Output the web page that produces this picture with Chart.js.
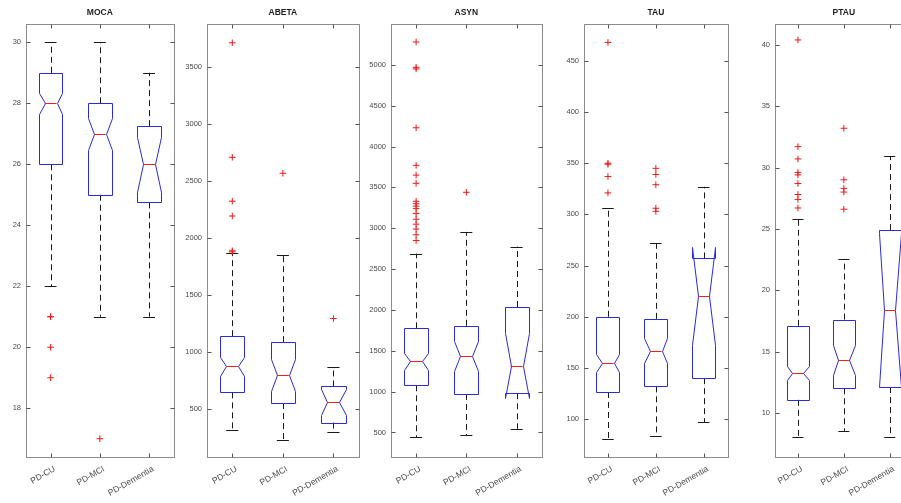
<!DOCTYPE html>
<html>
<head>
<meta charset="utf-8">
<script src="https://cdn.jsdelivr.net/npm/chart.js@4.4.1/dist/chart.umd.min.js"></script>
<style>
  html, body { margin: 0; padding: 0; background: #fff; overflow: hidden; }
  #wrap { position: relative; width: 901px; height: 503px; overflow: hidden; }
  #wrap canvas { position: absolute; top: 0; }
</style>
</head>
<body>
<div id="wrap"></div>
<script>
const groups = ['PD-CU', 'PD-MCI', 'PD-Dementia'];

// per group: [lower whisker, Q1, median, Q3, upper whisker]
const mocaBox = [[22, 26, 28, 29, 30], [21, 25, 27, 28, 30], [21, 24.75, 26, 27.25, 29]];
const mocaNotch = [[27.65, 28.35], [26.48, 27.52], [25.1, 26.9]];
const mocaOutliers = [[21, 21, 20, 19], [17], []];
const mocaTicks = [18, 20, 22, 24, 26, 28, 30];
const mocaRange = [16.4, 30.6];

const abetaBox = [[317, 647, 876, 1140, 1867], [227, 553, 803, 1088, 1852], [302, 382, 564, 699, 873]];
const abetaNotch = [[794, 958], [663, 943], [449, 679]];
const abetaOutliers = [[3715, 2710, 2325, 2195, 1890, 1880], [2570], [1295]];
const abetaTicks = [500, 1000, 1500, 2000, 2500, 3000, 3500];
const abetaRange = [80, 3880];

const asynBox = [[440, 1078, 1370, 1775, 2690], [470, 972, 1438, 1806, 2955], [545, 980, 1319, 2036, 2775]];
const asynNotch = [[1265, 1475], [1250, 1625], [919, 1719]];
const asynOutliers = [
  [5280, 4970, 4950, 4230, 3770, 3650, 3550, 3330, 3300, 3270, 3240, 3180, 3110, 3050, 2990, 2920, 2850],
  [3440],
  []
];
const asynTicks = [500, 1000, 1500, 2000, 2500, 3000, 3500, 4000, 4500, 5000];
const asynRange = [200, 5500];

const tauBox = [[81, 126.5, 155, 200, 306], [83.5, 132, 167, 198, 272], [97, 140, 220, 257, 327]];
const tauNotch = [[146, 164], [155, 179], [172, 268]];
const tauOutliers = [[468, 350, 349, 337, 321], [345, 339, 329, 306, 303], []];
const tauTicks = [100, 150, 200, 250, 300, 350, 400, 450];
const tauRange = [63, 486];

const ptauBox = [[8.0, 11.06, 13.23, 17.1, 25.8], [8.5, 12.0, 14.3, 17.6, 22.55], [8.0, 12.1, 18.4, 24.9, 30.9]];
const ptauNotch = [[12.64, 13.82], [13.1, 15.5], [12.1, 24.7]];
const ptauOutliers = [[40.4, 31.7, 30.7, 29.6, 29.4, 28.7, 27.8, 27.4, 26.7], [33.2, 29.0, 28.3, 28.0, 26.6], []];
const ptauTicks = [10, 15, 20, 25, 30, 35, 40];
const ptauRange = [6.4, 41.7];

// plot-area placement of each subplot (pixels)
const panels = [
  { title: 'MOCA',  box: mocaBox,  notch: mocaNotch,  outliers: mocaOutliers,  ticks: mocaTicks,  range: mocaRange,  left: 26,  right: 174 },
  { title: 'ABETA', box: abetaBox, notch: abetaNotch, outliers: abetaOutliers, ticks: abetaTicks, range: abetaRange, left: 207, right: 359 },
  { title: 'ASYN',  box: asynBox,  notch: asynNotch,  outliers: asynOutliers,  ticks: asynTicks,  range: asynRange,  left: 391, right: 542 },
  { title: 'TAU',   box: tauBox,   notch: tauNotch,   outliers: tauOutliers,   ticks: tauTicks,   range: tauRange,   left: 584, right: 728 },
  { title: 'PTAU',  box: ptauBox,  notch: ptauNotch,  outliers: ptauOutliers,  ticks: ptauTicks,  range: ptauRange,  left: 775, right: 913 }
];

const PLOT_TOP = 24;
const PLOT_BOTTOM = 457;
const H = 503;
const YAXIS_W = 40;
const PAD_R = 4;

const BOX_HW = 0.24;    // half box width, in category units
const NOTCH_HW = 0.12;  // half width at the median
const CAP_HW = 0.12;

const snap = v => Math.round(v) + 0.5;

const notchedBoxes = {
  id: 'notchedBoxes',
  beforeDatasetsDraw(chart, args, opts) {
    const { ctx, chartArea: a, scales: { x, y } } = chart;
    const px = v => x.getPixelForValue(v);
    const py = v => y.getPixelForValue(v);
    ctx.save();
    ctx.beginPath();
    ctx.rect(a.left, a.top, a.width, a.height);
    ctx.clip();
    ctx.lineWidth = 1;
    opts.box.forEach((s, i) => {
      const [lo, q1, med, q3, hi] = s;
      const [nlo, nhi] = opts.notch[i];
      const c = i + 1;
      const cx = snap(px(c));

      // dashed whiskers
      ctx.strokeStyle = '#1a1a1a';
      ctx.setLineDash([6, 4]);
      ctx.beginPath();
      ctx.moveTo(cx, py(q3));
      ctx.lineTo(cx, py(hi));
      ctx.moveTo(cx, py(q1));
      ctx.lineTo(cx, py(lo));
      ctx.stroke();
      ctx.setLineDash([]);

      // whisker caps
      ctx.beginPath();
      [lo, hi].forEach(v => {
        ctx.moveTo(px(c - CAP_HW), snap(py(v)));
        ctx.lineTo(px(c + CAP_HW), snap(py(v)));
      });
      ctx.stroke();

      // notched box outline
      const pts = [
        [c - BOX_HW, q1], [c - BOX_HW, nlo], [c - NOTCH_HW, med], [c - BOX_HW, nhi], [c - BOX_HW, q3],
        [c + BOX_HW, q3], [c + BOX_HW, nhi], [c + NOTCH_HW, med], [c + BOX_HW, nlo], [c + BOX_HW, q1]
      ];
      ctx.strokeStyle = '#2a2ade';
      ctx.beginPath();
      pts.forEach(([vx, vy], k) => {
        const X = snap(px(vx)), Y = snap(py(vy));
        if (k === 0) ctx.moveTo(X, Y); else ctx.lineTo(X, Y);
      });
      ctx.closePath();
      ctx.stroke();

      // median
      ctx.strokeStyle = '#f02020';
      ctx.beginPath();
      ctx.moveTo(px(c - NOTCH_HW), snap(py(med)));
      ctx.lineTo(px(c + NOTCH_HW), snap(py(med)));
      ctx.stroke();
    });
    ctx.restore();
  }
};

const axesFrame = {
  id: 'axesFrame',
  afterDraw(chart, args, opts) {
    const { ctx, chartArea: a, scales: { x, y } } = chart;
    const L = snap(a.left), R = snap(a.right), T = snap(a.top), B = snap(a.bottom);
    ctx.save();
    ctx.strokeStyle = '#8c8c8c';
    ctx.lineWidth = 1;
    ctx.strokeRect(L, T, R - L, B - T);
    ctx.strokeStyle = '#555';
    ctx.beginPath();
    y.ticks.forEach(t => {
      const yy = snap(y.getPixelForValue(t.value));
      ctx.moveTo(L, yy); ctx.lineTo(L + 4, yy);
      ctx.moveTo(R, yy); ctx.lineTo(R - 4, yy);
    });
    x.ticks.forEach(t => {
      const xx = snap(x.getPixelForValue(t.value));
      ctx.moveTo(xx, B); ctx.lineTo(xx, B - 4);
      ctx.moveTo(xx, T); ctx.lineTo(xx, T + 4);
    });
    ctx.stroke();

    ctx.fillStyle = '#1e1e1e';
    ctx.font = 'bold 8.5px "Liberation Sans", Arial, sans-serif';
    ctx.textAlign = 'center';
    ctx.textBaseline = 'middle';
    ctx.fillText(opts.title, (a.left + a.right) / 2, 13);
    ctx.restore();
  }
};

const wrap = document.getElementById('wrap');
const fontFamily = '"Liberation Sans", Arial, sans-serif';

panels.forEach(p => {
  const canvas = document.createElement('canvas');
  const w = YAXIS_W + (p.right - p.left) + PAD_R;
  canvas.width = w;
  canvas.height = H;
  canvas.style.left = (p.left - YAXIS_W) + 'px';
  canvas.style.width = w + 'px';
  canvas.style.height = H + 'px';
  wrap.appendChild(canvas);

  const points = [];
  p.outliers.forEach((list, i) => list.forEach(v => points.push({ x: i + 1, y: v })));

  new Chart(canvas.getContext('2d'), {
    type: 'scatter',
    data: {
      datasets: [{
        data: points,
        pointStyle: 'cross',
        pointRadius: 3.3,
        pointHoverRadius: 3.3,
        borderColor: '#f01818',
        backgroundColor: '#f01818',
        borderWidth: 1
      }]
    },
    options: {
      responsive: false,
      animation: false,
      events: [],
      layout: { padding: { top: PLOT_TOP, right: PAD_R, left: 0, bottom: 0 } },
      plugins: {
        legend: { display: false },
        tooltip: { enabled: false },
        notchedBoxes: { box: p.box, notch: p.notch },
        axesFrame: { title: p.title }
      },
      scales: {
        x: {
          type: 'linear',
          min: 0.5,
          max: 3.5,
          grid: { display: false, drawTicks: false },
          border: { display: false },
          afterBuildTicks: s => { s.ticks = groups.map((g, i) => ({ value: i + 1 })); },
          afterFit: s => { s.height = H - PLOT_BOTTOM; },
          ticks: {
            autoSkip: false,
            minRotation: 30,
            maxRotation: 30,
            padding: 7,
            labelOffset: 4,
            color: '#4a4a4a',
            font: { family: fontFamily, size: 8.5 },
            callback: v => groups[v - 1]
          }
        },
        y: {
          type: 'linear',
          min: p.range[0],
          max: p.range[1],
          grid: { display: false, drawTicks: false },
          border: { display: false },
          afterBuildTicks: s => { s.ticks = p.ticks.map(v => ({ value: v })); },
          afterFit: s => { s.width = YAXIS_W; },
          ticks: {
            padding: 5,
            color: '#4a4a4a',
            font: { family: fontFamily, size: 7.5 },
            callback: v => String(v)
          }
        }
      }
    },
    plugins: [notchedBoxes, axesFrame]
  });
});
</script>
</body>
</html>
